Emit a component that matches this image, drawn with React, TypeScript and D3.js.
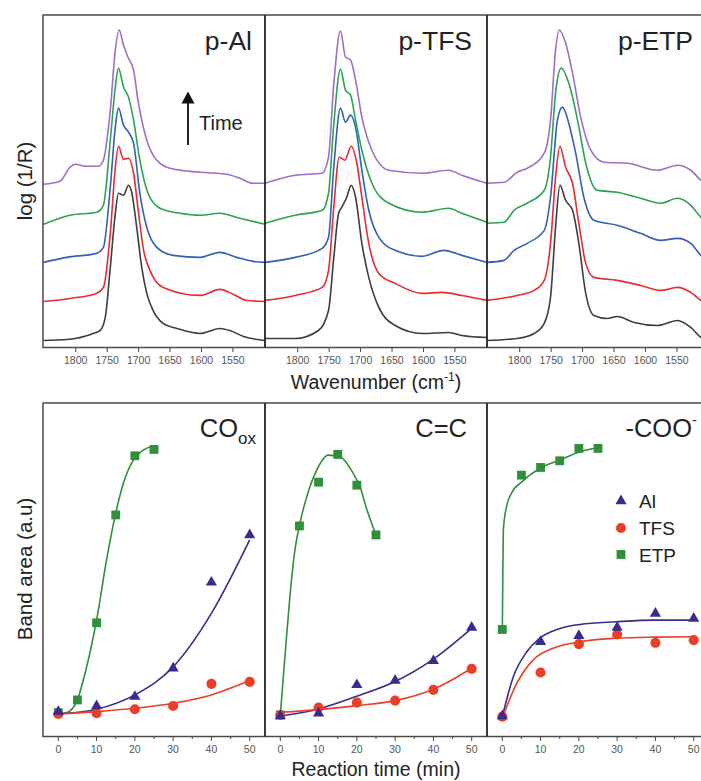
import React from 'react';
import * as d3 from 'd3';

// ---------- DATA ----------
const PANEL_NAMES = ['p-Al', 'p-TFS', 'p-ETP'];
const WN_TICKS = [1800, 1750, 1700, 1650, 1600, 1550];
const TIME_TICKS = [0, 10, 20, 30, 40, 50];
const TIME_MINOR = [5, 15, 25, 35, 45];

// spectra: [wavenumber, log(1/R) with stacking offset]
const AL_0 = [[1851,0.07],[1814,0.08],[1772,0.14],[1761,0.17],[1753,0.30],[1745,0.80],[1737,1.34],[1732,1.54],[1724,1.52],[1716,1.62],[1711,1.55],[1703,1.20],[1695,0.80],[1687,0.54],[1677,0.37],[1661,0.24],[1639,0.19],[1602,0.14],[1571,0.19],[1555,0.17],[1533,0.11],[1499,0.07]];
const AL_1 = [[1851,0.46],[1809,0.49],[1767,0.54],[1756,0.60],[1745,1.14],[1737,1.80],[1732,2.01],[1724,1.88],[1716,1.89],[1708,1.74],[1700,1.34],[1692,0.97],[1682,0.77],[1661,0.60],[1602,0.52],[1571,0.58],[1549,0.53],[1528,0.47],[1499,0.46]];
const AL_2 = [[1851,0.85],[1814,0.90],[1767,0.94],[1756,1.00],[1745,1.60],[1737,2.20],[1732,2.39],[1724,2.22],[1716,2.15],[1708,2.04],[1698,1.54],[1687,1.20],[1671,1.00],[1645,0.92],[1602,0.90],[1571,0.95],[1544,0.90],[1518,0.86],[1499,0.85]];
const AL_3 = [[1851,1.23],[1809,1.32],[1767,1.35],[1756,1.42],[1745,2.07],[1737,2.60],[1732,2.79],[1724,2.60],[1716,2.50],[1708,2.27],[1698,1.87],[1685,1.54],[1666,1.39],[1634,1.34],[1602,1.32],[1571,1.34],[1539,1.29],[1499,1.23]];
const AL_4 = [[1851,1.63],[1825,1.66],[1809,1.80],[1801,1.83],[1785,1.81],[1764,1.81],[1756,1.87],[1745,2.37],[1737,2.97],[1731,3.17],[1724,3.02],[1717,2.90],[1708,2.77],[1701,2.47],[1687,2.07],[1671,1.87],[1650,1.79],[1602,1.75],[1560,1.73],[1539,1.69],[1518,1.64],[1499,1.64]];

const TFS_0 = [[1852,0.09],[1804,0.09],[1767,0.17],[1751,0.37],[1743,0.87],[1735,1.34],[1730,1.40],[1722,1.50],[1715,1.62],[1708,1.50],[1698,1.04],[1687,0.70],[1671,0.40],[1645,0.22],[1602,0.14],[1560,0.15],[1539,0.12],[1499,0.10]];
const TFS_1 = [[1852,0.47],[1804,0.52],[1761,0.60],[1751,0.77],[1743,1.37],[1734,1.90],[1725,1.87],[1715,2.01],[1706,1.84],[1698,1.50],[1687,1.04],[1671,0.74],[1645,0.64],[1602,0.54],[1571,0.55],[1539,0.52],[1499,0.47]];
const TFS_2 = [[1852,0.85],[1804,0.90],[1761,0.99],[1751,1.10],[1743,1.77],[1732,2.39],[1724,2.25],[1716,2.32],[1708,2.20],[1698,1.77],[1687,1.37],[1671,1.10],[1645,0.97],[1602,0.91],[1568,0.97],[1539,0.92],[1499,0.85]];
const TFS_3 = [[1852,1.24],[1804,1.32],[1761,1.37],[1751,1.54],[1743,2.20],[1732,2.78],[1724,2.57],[1716,2.52],[1708,2.27],[1698,1.97],[1682,1.64],[1655,1.44],[1602,1.35],[1560,1.39],[1539,1.34],[1499,1.25]];
const TFS_4 = [[1852,1.64],[1804,1.72],[1761,1.74],[1751,1.90],[1743,2.60],[1732,3.16],[1724,2.90],[1716,2.87],[1708,2.67],[1698,2.30],[1682,1.97],[1655,1.77],[1602,1.74],[1560,1.77],[1539,1.72],[1499,1.64]];

const ETP_0 = [[1852,0.07],[1804,0.09],[1777,0.14],[1761,0.24],[1751,0.50],[1743,1.20],[1736,1.62],[1727,1.47],[1716,1.37],[1706,1.04],[1695,0.54],[1682,0.32],[1661,0.29],[1645,0.31],[1618,0.25],[1581,0.22],[1549,0.27],[1528,0.20],[1512,0.10],[1499,0.05]];
const ETP_1 = [[1852,0.47],[1804,0.52],[1777,0.57],[1761,0.67],[1751,1.04],[1743,1.70],[1736,2.01],[1727,1.80],[1716,1.64],[1706,1.24],[1695,0.84],[1682,0.70],[1645,0.67],[1608,0.62],[1576,0.57],[1549,0.60],[1528,0.55],[1512,0.47],[1499,0.43]];
const ETP_2 = [[1852,0.85],[1825,0.87],[1809,0.97],[1788,1.04],[1761,1.17],[1751,1.50],[1740,2.27],[1732,2.40],[1722,2.24],[1711,1.94],[1698,1.50],[1682,1.27],[1645,1.22],[1608,1.14],[1576,1.07],[1549,1.09],[1528,1.04],[1512,0.92],[1499,0.85]];
const ETP_3 = [[1852,1.24],[1825,1.25],[1809,1.37],[1788,1.44],[1761,1.57],[1751,1.90],[1743,2.54],[1734,2.79],[1722,2.64],[1708,2.27],[1695,1.84],[1677,1.57],[1645,1.55],[1608,1.49],[1576,1.44],[1549,1.49],[1528,1.42],[1512,1.30],[1499,1.23]];
const ETP_4 = [[1852,1.64],[1825,1.65],[1804,1.75],[1788,1.79],[1761,1.94],[1751,2.27],[1743,2.97],[1737,3.17],[1727,3.04],[1716,2.74],[1703,2.30],[1687,1.97],[1666,1.85],[1629,1.84],[1581,1.77],[1549,1.82],[1528,1.77],[1512,1.67],[1499,1.61]];

const SPECTRA = [
  [AL_0, AL_1, AL_2, AL_3, AL_4],
  [TFS_0, TFS_1, TFS_2, TFS_3, TFS_4],
  [ETP_0, ETP_1, ETP_2, ETP_3, ETP_4],
];

// kinetics: band area (a.u.)
const TIME = [0, 10, 20, 30, 40, 50];
const TIME_ETP = [0, 5, 10, 15, 20, 25];
const COOX_AL = [7.6, 9.3, 12.1, 20.6, 46.3, 60.5];
const COOX_TFS = [6.9, 7.1, 8.3, 9.3, 15.9, 16.5];
const COOX_ETP = [7.3, 11.1, 34.2, 66.5, 84.2, 86.1];
const CC_AL = [6.3, 7.1, 15.6, 16.9, 22.8, 32.8];
const CC_TFS = [6.6, 8.8, 10.3, 10.9, 14.1, 20.4];
const CC_ETP = [6.6, 63.2, 76.3, 84.6, 75.4, 60.5];
const COO_AL = [6.3, 28.5, 30.3, 32.8, 37.0, 35.5];
const COO_TFS = [6.1, 19.3, 27.8, 30.7, 28.2, 29.0];
const COO_ETP = [32.2, 78.4, 80.7, 82.7, 86.4, 86.4];

// fitted curves [time, area]
const COOX_AL_FIT = [[0,6.9],[10,8.3],[20,12.6],[30,21.0],[40,37.0],[50,59.0]];
const COOX_TFS_FIT = [[0,6.9],[10,7.6],[20,8.6],[30,10.1],[40,12.6],[50,16.9]];
const COOX_ETP_FIT = [[0,6.9],[2.2,7.3],[4.8,10.6],[7.4,21.0],[10,35.0],[12.6,53.0],[14.8,66.0],[17,76.0],[19.6,82.9],[22.2,85.9],[24.8,87.1]];
const CC_AL_FIT = [[0,6.3],[10,8.4],[20,12.2],[30,16.6],[40,23.3],[50,32.5]];
const CC_TFS_FIT = [[0,7.4],[10,8.2],[20,9.4],[30,10.9],[40,14.3],[50,20.6]];
const CC_ETP_FIT = [[0,6.6],[1.2,24.0],[2.5,42.0],[3.8,55.9],[5.1,63.9],[6.9,71.9],[9.5,79.9],[12.5,84.4],[15.6,83.9],[19.0,79.0],[20.8,75.0],[22.5,68.5],[25,60.5]];
const COO_AL_FIT = [[0,6.1],[2.9,18.1],[6.4,25.5],[9.8,29.6],[15.1,32.5],[20.3,33.7],[29.8,34.5],[39.8,35.0],[49.8,35.0]];
const COO_TFS_FIT = [[0,5.6],[3.8,16.1],[8.1,23.1],[13.3,26.6],[20.3,28.5],[29.8,29.6],[39.8,29.9],[49.8,30.0]];
const COO_ETP_FIT = [[0,32.2],[0.1,44.0],[0.27,62.0],[1.1,69.0],[2.4,73.0],[5.1,76.4],[9.8,80.4],[15,82.9],[20.3,85.4],[25,86.7]];

const KINETICS = [
  { al: COOX_AL, tfs: COOX_TFS, etp: COOX_ETP, alFit: COOX_AL_FIT, tfsFit: COOX_TFS_FIT, etpFit: COOX_ETP_FIT },
  { al: CC_AL, tfs: CC_TFS, etp: CC_ETP, alFit: CC_AL_FIT, tfsFit: CC_TFS_FIT, etpFit: CC_ETP_FIT },
  { al: COO_AL, tfs: COO_TFS, etp: COO_ETP, alFit: COO_AL_FIT, tfsFit: COO_TFS_FIT, etpFit: COO_ETP_FIT },
];
const LEGEND = ['Al', 'TFS', 'ETP'];

// ---------- STYLE ----------
const FONT = "'Liberation Sans', Arial, Helvetica, sans-serif";
const SPEC_COLORS = ['#3d3d3d', '#ea2a2c', '#3160b4', '#2ba253', '#9d6fc5'];
const AL_C = '#3b2b8e';
const TFS_C = '#ea3f27';
const ETP_C = '#2f8f3a';
const PX = [43, 265, 487];
const PW = 222;

export default function App() {
  const yTop = d3.scaleLinear().domain([0, 3.32]).range([347.5, 15]);
  const yBot = d3.scaleLinear().domain([0, 100]).range([737, 403]);
  const xTop = PX.map((x0) => d3.scaleLinear().domain([1852, 1499]).range([x0, x0 + PW]));
  const xBot = PX.map((x0) => d3.scaleLinear().domain([-4, 54]).range([x0, x0 + PW]));

  const triangle = d3.symbol().type(d3.symbolTriangle).size(54)();
  const circle = d3.symbol().type(d3.symbolCircle).size(80)();
  const square = d3.symbol().type(d3.symbolSquare).size(78)();

  const tickCol = '#444';
  const labCol = '#555';

  return (
    <svg width={701} height={781} style={{ position: 'absolute', left: 0, top: 0 }} fontFamily={FONT}>
      <rect x={0} y={0} width={701} height={781} fill="#fff" />
      <defs>
        {PX.map((x0, i) => (
          <clipPath id={`ct${i}`} key={`ct${i}`}>
            <rect x={x0} y={15} width={PW} height={332.5} />
          </clipPath>
        ))}
        {PX.map((x0, i) => (
          <clipPath id={`cb${i}`} key={`cb${i}`}>
            <rect x={x0} y={403} width={PW} height={334} />
          </clipPath>
        ))}
      </defs>

      {/* ---------- TOP: spectra ---------- */}
      {SPECTRA.map((set, i) => {
        const xs = xTop[i];
        const line = d3.line<number[]>().x((d) => xs(d[0])).y((d) => yTop(d[1])).curve(d3.curveMonotoneX);
        return (
          <g key={`sp${i}`}>
            <g clipPath={`url(#ct${i})`}>
              {set.map((s, k) => (
                <path key={k} d={line(s) || ''} fill="none" stroke={SPEC_COLORS[k]} strokeWidth={1.6} strokeLinejoin="round" />
              ))}
            </g>
            {WN_TICKS.map((t) => (
              <g key={t}>
                <line x1={xs(t)} x2={xs(t)} y1={347.5} y2={352} stroke={tickCol} strokeWidth={1} />
                <text x={xs(t)} y={364} fontSize={10.5} fill={labCol} textAnchor="middle">{t}</text>
              </g>
            ))}
            <text x={[252, 472, 693][i]} y={50} fontSize={26.5} fill="#222" textAnchor="end">{PANEL_NAMES[i]}</text>
          </g>
        );
      })}
      <rect x={43} y={15} width={700} height={332.5} fill="none" stroke="#4a4a4a" strokeWidth={1.5} />
      <line x1={265} x2={265} y1={15} y2={347.5} stroke="#222" strokeWidth={1.8} />
      <line x1={487} x2={487} y1={15} y2={347.5} stroke="#222" strokeWidth={1.8} />

      {/* time arrow */}
      <line x1={188} x2={188} y1={145} y2={102} stroke="#222" strokeWidth={2} />
      <path d="M181.5,103.5 L194.5,103.5 L188,91.5 Z" fill="#111" />
      <text x={199} y={130} fontSize={20} fill="#222">Time</text>

      <text transform="translate(32,181) rotate(-90)" fontSize={20.5} fill="#222" textAnchor="middle">log (1/R)</text>
      <text x={376} y={389} fontSize={19.5} fill="#222" textAnchor="middle">
        Wavenumber (cm<tspan fontSize={12} dy={-8}>-1</tspan><tspan dy={8}>)</tspan>
      </text>

      {/* ---------- BOTTOM: kinetics ---------- */}
      {KINETICS.map((k, i) => {
        const xs = xBot[i];
        const fit = d3.line<number[]>().x((d) => xs(d[0])).y((d) => yBot(d[1])).curve(d3.curveMonotoneX);
        return (
          <g key={`kn${i}`}>
            <g clipPath={`url(#cb${i})`}>
              <path d={fit(k.etpFit) || ''} fill="none" stroke={ETP_C} strokeWidth={1.6} />
              <path d={fit(k.alFit) || ''} fill="none" stroke={AL_C} strokeWidth={1.6} />
              <path d={fit(k.tfsFit) || ''} fill="none" stroke={TFS_C} strokeWidth={1.6} />
              {k.etp.map((v, j) => (
                <path key={`e${j}`} d={square || ''} transform={`translate(${xs(TIME_ETP[j])},${yBot(v)})`} fill={ETP_C} />
              ))}
              {k.tfs.map((v, j) => (
                <path key={`t${j}`} d={circle || ''} transform={`translate(${xs(TIME[j])},${yBot(v)})`} fill={TFS_C} />
              ))}
              {k.al.map((v, j) => (
                <path key={`a${j}`} d={triangle || ''} transform={`translate(${xs(TIME[j])},${yBot(v)})`} fill={AL_C} />
              ))}
            </g>
            {TIME_TICKS.map((t) => (
              <g key={t}>
                <line x1={xs(t)} x2={xs(t)} y1={736.5} y2={741} stroke={tickCol} strokeWidth={1} />
                <text x={xs(t)} y={753} fontSize={10.5} fill={labCol} textAnchor="middle">{t}</text>
              </g>
            ))}
            {TIME_MINOR.map((t) => (
              <line key={`m${t}`} x1={xs(t)} x2={xs(t)} y1={736.5} y2={739} stroke={tickCol} strokeWidth={1} />
            ))}
          </g>
        );
      })}
      <rect x={43} y={403} width={700} height={333.5} fill="none" stroke="#4a4a4a" strokeWidth={1.5} />
      <line x1={265} x2={265} y1={403} y2={736.5} stroke="#222" strokeWidth={1.8} />
      <line x1={487} x2={487} y1={403} y2={736.5} stroke="#222" strokeWidth={1.8} />

      <text x={256} y={437} fontSize={25.5} fill="#222" textAnchor="end">
        CO<tspan fontSize={17} dy={7}>ox</tspan>
      </text>
      <text x={467} y={437} fontSize={25.5} fill="#222" textAnchor="end">C=C</text>
      <text x={697} y={437} fontSize={25.5} fill="#222" textAnchor="end">
        -COO<tspan fontSize={15} dy={-12}>-</tspan>
      </text>

      {/* legend */}
      <path d={triangle || ''} transform="translate(621,501)" fill={AL_C} />
      <path d={circle || ''} transform="translate(621,528)" fill={TFS_C} />
      <path d={square || ''} transform="translate(621,554.5)" fill={ETP_C} />
      {LEGEND.map((l, j) => (
        <text key={l} x={639} y={507.5 + j * 27} fontSize={19} fill="#222">{l}</text>
      ))}

      <text transform="translate(32,569) rotate(-90)" fontSize={20.5} fill="#222" textAnchor="middle">Band area (a.u)</text>
      <text x={376} y={776} fontSize={19.5} fill="#222" textAnchor="middle">Reaction time (min)</text>
    </svg>
  );
}
